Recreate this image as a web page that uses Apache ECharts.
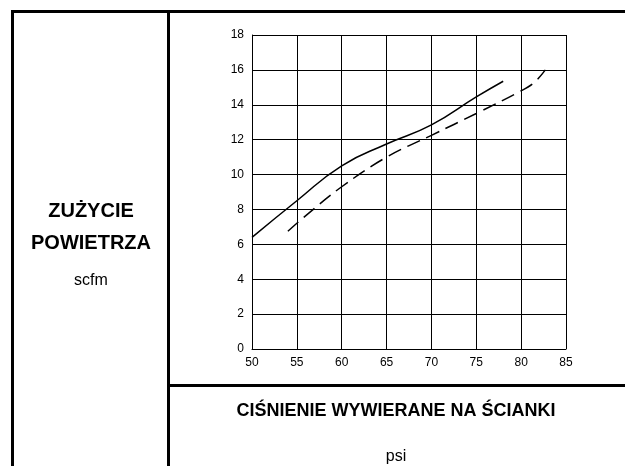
<!DOCTYPE html>
<html>
<head>
<meta charset="utf-8">
<script src="https://cdn.jsdelivr.net/npm/echarts@6/dist/echarts.min.js"></script>
<style>
  html, body { margin: 0; padding: 0; background: #fff; }
  #chart { width: 625px; height: 466px; }
</style>
</head>
<body>
<div id="chart"></div>
<script>
  const solidPsi = [50, 55, 60, 65, 70, 75, 78]
  const solidScfm = [6.4, 8.5, 10.5, 11.75, 12.85, 14.45, 15.35]
  const dashedPsi = [54, 56, 60, 65, 70, 75, 80, 81.5, 82.7]
  const dashedScfm = [6.75, 7.65, 9.3, 11.0, 12.25, 13.5, 14.8, 15.3, 16.0]

  const yTitle = ['ZUŻYCIE', 'POWIETRZA']
  const yUnit = 'scfm'
  const xTitle = 'CIŚNIENIE WYWIERANE NA ŚCIANKI'
  const xUnit = 'psi'

  const font = 'Liberation Sans, Arial, sans-serif'
  const chart = echarts.init(document.getElementById('chart'))

  const pairs = (xs, ys) => xs.map((x, i) => [x, ys[i]])

  const label = (text, x, y, f) => ({
    type: 'text', x: x, y: y,
    style: { text: text, textAlign: 'center', textVerticalAlign: 'middle', font: f, fill: '#000' }
  })

  chart.setOption({
    animation: false,
    backgroundColor: '#fff',
    grid: {
      left: 252,
      top: 35,
      right: 59,
      bottom: 117
    },
    xAxis: {
      type: 'value',
      min: 50,
      max: 85,
      interval: 5,
      axisLine: { lineStyle: { color: '#000', width: 1 } },
      axisTick: { show: false },
      splitLine: { lineStyle: { color: '#000', width: 1 } },
      axisLabel: { color: '#000', fontSize: 12, fontFamily: font, margin: 8 }
    },
    yAxis: {
      type: 'value',
      min: 0,
      max: 18,
      interval: 2,
      axisLine: { show: true, lineStyle: { color: '#000', width: 1 } },
      axisTick: { show: false },
      splitLine: { lineStyle: { color: '#000', width: 1 } },
      axisLabel: { color: '#000', fontSize: 12, fontFamily: font, margin: 8 }
    },
    series: [
      {
        type: 'line',
        data: pairs(solidPsi, solidScfm),
        smooth: 0.5,
        symbol: 'none',
        lineStyle: { color: '#000', width: 1.5 }
      },
      {
        type: 'line',
        data: pairs(dashedPsi, dashedScfm),
        smooth: 0.4,
        symbol: 'none',
        lineStyle: { color: '#000', width: 1.5, type: [14, 7] }
      }
    ],
    graphic: [
      // ramka tabeli
      { type: 'line', shape: { x1: 11, y1: 11.5, x2: 625, y2: 11.5 }, style: { stroke: '#000', lineWidth: 3 } },
      { type: 'line', shape: { x1: 12.5, y1: 10, x2: 12.5, y2: 466 }, style: { stroke: '#000', lineWidth: 3 } },
      { type: 'line', shape: { x1: 168.5, y1: 10, x2: 168.5, y2: 466 }, style: { stroke: '#000', lineWidth: 3 } },
      { type: 'line', shape: { x1: 167, y1: 385.5, x2: 625, y2: 385.5 }, style: { stroke: '#000', lineWidth: 3 } },
      // opisy
      label(yTitle[0], 91, 211, 'bold 20px ' + font),
      label(yTitle[1], 91, 243, 'bold 20px ' + font),
      label(yUnit, 91, 281, '16px ' + font),
      label(xTitle, 396, 411, 'bold 18px ' + font),
      label(xUnit, 396, 457, '16px ' + font)
    ]
  })
</script>
</body>
</html>
